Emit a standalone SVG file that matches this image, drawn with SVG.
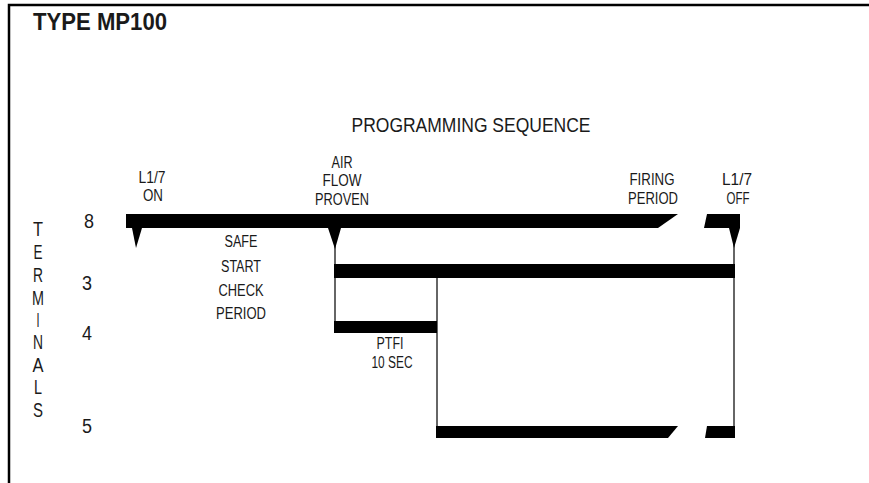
<svg xmlns="http://www.w3.org/2000/svg" width="869" height="483" viewBox="0 0 869 483">
<style>
text{font-family:"Liberation Sans",Arial,sans-serif;fill:#1a1a1a}
.t{font-size:16px;text-anchor:middle}
.n{font-size:20px;text-anchor:middle}
.bar{fill:#000}
.ln{stroke:#333;stroke-width:1.5;fill:none}
</style>
<rect width="869" height="483" fill="#fff"/>
<path d="M9,483 V5 H869" fill="none" stroke="#000" stroke-width="2.5"/>
<text id="title" x="33" y="30" font-size="24" font-weight="bold" textLength="134" lengthAdjust="spacingAndGlyphs">TYPE MP100</text>
<text id="heading" x="471" y="132" font-size="21" text-anchor="middle" textLength="239" lengthAdjust="spacingAndGlyphs">PROGRAMMING SEQUENCE</text>
<g id="terminals-label" class="n">
<text x="38" y="236" textLength="10" lengthAdjust="spacingAndGlyphs">T</text>
<text x="38" y="259" textLength="9" lengthAdjust="spacingAndGlyphs">E</text>
<text x="38" y="282" textLength="10" lengthAdjust="spacingAndGlyphs">R</text>
<text x="38" y="305" textLength="12" lengthAdjust="spacingAndGlyphs">M</text>
<text x="38" y="327" textLength="3" lengthAdjust="spacingAndGlyphs">I</text>
<text x="38" y="349" textLength="10" lengthAdjust="spacingAndGlyphs">N</text>
<text x="38" y="372" textLength="11" lengthAdjust="spacingAndGlyphs">A</text>
<text x="38" y="394" textLength="8" lengthAdjust="spacingAndGlyphs">L</text>
<text x="38" y="417" textLength="10" lengthAdjust="spacingAndGlyphs">S</text>
</g>
<g id="terminal-numbers" class="n">
<text x="89" y="228" textLength="10" lengthAdjust="spacingAndGlyphs">8</text>
<text x="87" y="290" textLength="10" lengthAdjust="spacingAndGlyphs">3</text>
<text x="87" y="340" textLength="10" lengthAdjust="spacingAndGlyphs">4</text>
<text x="87" y="433" textLength="10" lengthAdjust="spacingAndGlyphs">5</text>
</g>
<g id="connectors">
<line class="ln" x1="335" y1="240" x2="335" y2="333"/>
<line class="ln" x1="437" y1="278" x2="437" y2="438"/>
<line class="ln" x1="734" y1="240" x2="734" y2="426"/>
</g>
<g id="bar-8">
<polygon class="bar" points="126,214 678,214 658,228 126,228"/>
<polygon class="bar" points="132,228 142,228 136,248"/>
<polygon class="bar" points="328,228 341,228 335,249"/>
<polygon class="bar" points="707,214 740,214 740,228 704,228"/>
<polygon class="bar" points="729,228 740,228 734,248"/>
</g>
<g id="bar-3"><rect class="bar" x="334" y="264" width="401" height="14"/></g>
<g id="bar-4"><rect class="bar" x="334" y="321" width="103" height="12"/></g>
<g id="bar-5">
<polygon class="bar" points="436,426 678,426 668,438 436,438"/>
<polygon class="bar" points="707,426 735,426 735,438 705,438"/>
</g>
<g id="label-l17-on" class="t">
<text x="152" y="183" textLength="27" lengthAdjust="spacingAndGlyphs">L1/7</text>
<text x="153" y="201" textLength="20" lengthAdjust="spacingAndGlyphs">ON</text>
</g>
<g id="label-air-flow" class="t">
<text x="342" y="168" textLength="21" lengthAdjust="spacingAndGlyphs">AIR</text>
<text x="342" y="186" textLength="39" lengthAdjust="spacingAndGlyphs">FLOW</text>
<text x="342" y="205" textLength="54" lengthAdjust="spacingAndGlyphs">PROVEN</text>
</g>
<g id="label-firing" class="t">
<text x="652" y="185" textLength="45" lengthAdjust="spacingAndGlyphs">FIRING</text>
<text x="653" y="204" textLength="50" lengthAdjust="spacingAndGlyphs">PERIOD</text>
</g>
<g id="label-l17-off" class="t">
<text x="737" y="185" textLength="30" lengthAdjust="spacingAndGlyphs">L1/7</text>
<text x="738" y="204" textLength="23" lengthAdjust="spacingAndGlyphs">OFF</text>
</g>
<g id="label-safe-start" class="t">
<text x="241" y="247" textLength="33" lengthAdjust="spacingAndGlyphs">SAFE</text>
<text x="241" y="272" textLength="40" lengthAdjust="spacingAndGlyphs">START</text>
<text x="241" y="296" textLength="45" lengthAdjust="spacingAndGlyphs">CHECK</text>
<text x="241" y="319" textLength="50" lengthAdjust="spacingAndGlyphs">PERIOD</text>
</g>
<g id="label-ptfi" class="t">
<text x="390" y="349" textLength="27" lengthAdjust="spacingAndGlyphs">PTFI</text>
<text x="392" y="368" textLength="41" lengthAdjust="spacingAndGlyphs">10 SEC</text>
</g>
</svg>
